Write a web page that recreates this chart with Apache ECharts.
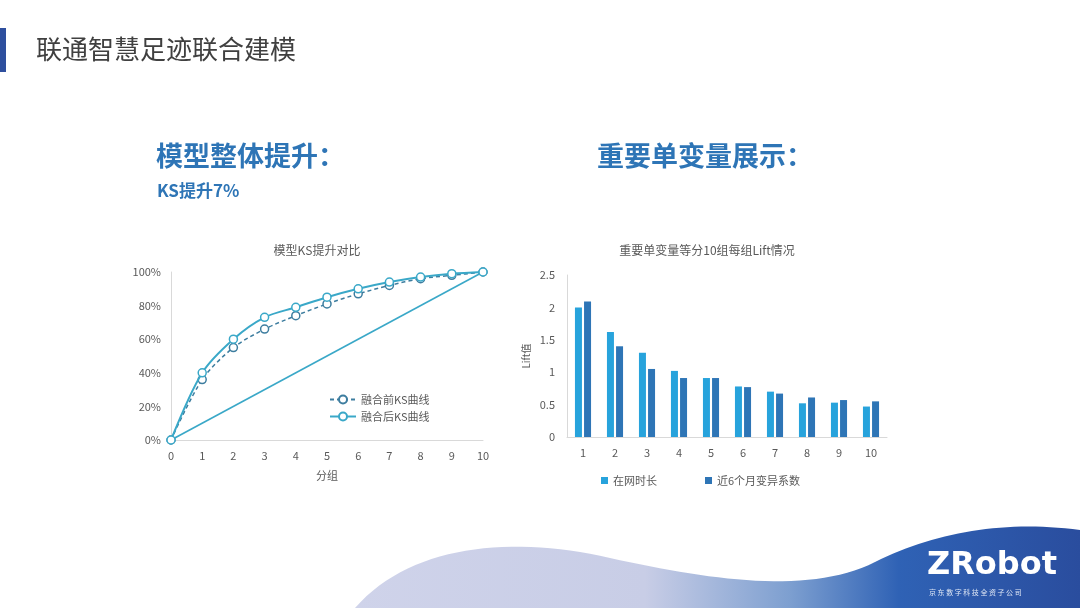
<!DOCTYPE html>
<html>
<head>
<meta charset="utf-8">
<script src="https://cdn.jsdelivr.net/npm/echarts@6/dist/echarts.min.js"></script>
<style>
  html, body { margin: 0; padding: 0; background: #fff; }
  #chart { width: 1080px; height: 608px; }
</style>
</head>
<body>
<div id="chart"></div>
<script>
// 左图：KS 曲线
const ksGroups = [0, 1, 2, 3, 4, 5, 6, 7, 8, 9, 10]
const ksBefore = [0, 36, 55, 66, 74, 81, 87, 92, 96, 98, 100]
const ksAfter = [0, 40, 60, 73, 79, 85, 90, 94, 97, 99, 100]
const ksBaseGroups = [0, 10]
const ksBaseValues = [0, 100]

// 右图：Lift
const liftGroups = ['1', '2', '3', '4', '5', '6', '7', '8', '9', '10']
const liftTenure = [2.0, 1.62, 1.30, 1.02, 0.91, 0.78, 0.70, 0.52, 0.53, 0.47]
const liftCv = [2.09, 1.40, 1.05, 0.91, 0.91, 0.77, 0.67, 0.61, 0.57, 0.55]

const FONT = '"Noto Sans CJK SC", "Noto Sans", sans-serif'
const GRAY = '#595959'
const AXIS = '#d9d9d9'
const C_AFTER = '#3aa8c8'
const C_BEFORE = '#3d7d9f'
const C_TENURE = '#27a3dc'
const C_CV = '#2e75b6'

const chart = echarts.init(document.getElementById('chart'))

const zip = (xs, ys) => xs.map((x, i) => [x, ys[i]])

// 底部装饰波浪：三次贝塞尔采样成多边形
function wavePoints() {
  const segs = [
    [[355, 608], [410, 545], [510, 535], [610, 558]],
    [[610, 558], [710, 580], [810, 595], [875, 562]],
    [[875, 562], [935, 532], [1005, 520], [1080, 530]]
  ]
  const pts = []
  segs.forEach(([p0, p1, p2, p3]) => {
    for (let i = 0; i <= 30; i++) {
      const t = i / 30, u = 1 - t
      pts.push([
        u * u * u * p0[0] + 3 * u * u * t * p1[0] + 3 * u * t * t * p2[0] + t * t * t * p3[0],
        u * u * u * p0[1] + 3 * u * u * t * p1[1] + 3 * u * t * t * p2[1] + t * t * t * p3[1]
      ])
    }
  })
  pts.push([1080, 608])
  return pts
}

const option = {
  textStyle: { fontFamily: FONT },
  title: [
    { text: '模型KS提升对比', left: 312, top: 239, textAlign: 'center',
      textStyle: { fontSize: 12, fontWeight: 'normal', color: GRAY, fontFamily: FONT } },
    { text: '重要单变量等分10组每组Lift情况', left: 702, top: 239, textAlign: 'center',
      textStyle: { fontSize: 12, fontWeight: 'normal', color: GRAY, fontFamily: FONT } }
  ],
  legend: [
    {
      data: ['融合前KS曲线', '融合后KS曲线'],
      orient: 'vertical', left: 324, top: 389, itemGap: 6,
      itemWidth: 26, itemHeight: 10,
      textStyle: { fontSize: 11, color: GRAY, fontFamily: FONT }
    },
    {
      data: ['在网时长', '近6个月变异系数'],
      left: 596, top: 470, itemGap: 48,
      icon: 'rect', itemWidth: 7, itemHeight: 7,
      textStyle: { fontSize: 11, color: GRAY, fontFamily: FONT }
    }
  ],
  grid: [
    { left: 171, top: 272, width: 312, height: 168 },
    { left: 567, top: 275, width: 320, height: 162 }
  ],
  xAxis: [
    {
      gridIndex: 0, type: 'value', min: 0, max: 10, interval: 1,
      name: '分组', nameLocation: 'middle', nameGap: 30,
      nameTextStyle: { fontSize: 11, color: GRAY },
      axisLine: { lineStyle: { color: AXIS } },
      axisTick: { show: false }, splitLine: { show: false },
      axisLabel: { fontSize: 11, color: GRAY, margin: 10 }
    },
    {
      gridIndex: 1, type: 'category', data: liftGroups,
      axisLine: { lineStyle: { color: AXIS } },
      axisTick: { show: false },
      axisLabel: { fontSize: 11, color: GRAY, margin: 10 }
    }
  ],
  yAxis: [
    {
      gridIndex: 0, type: 'value', min: 0, max: 100, interval: 20,
      axisLine: { show: true, lineStyle: { color: AXIS } },
      axisTick: { show: false }, splitLine: { show: false },
      axisLabel: { fontSize: 11, color: GRAY, margin: 10, formatter: '{value}%' }
    },
    {
      gridIndex: 1, type: 'value', min: 0, max: 2.5, interval: 0.5,
      name: 'Lift值', nameLocation: 'middle', nameGap: 36, nameRotate: 90,
      nameTextStyle: { fontSize: 10, color: GRAY },
      axisLine: { show: true, lineStyle: { color: AXIS } },
      axisTick: { show: false }, splitLine: { show: false },
      axisLabel: { fontSize: 11, color: GRAY, margin: 12 }
    }
  ],
  series: [
    {
      name: 'baseline', type: 'line', xAxisIndex: 0, yAxisIndex: 0,
      data: zip(ksBaseGroups, ksBaseValues), symbol: 'none',
      lineStyle: { color: C_AFTER, width: 1.6 }, silent: true, z: 1
    },
    {
      name: '融合前KS曲线', type: 'line', xAxisIndex: 0, yAxisIndex: 0,
      data: zip(ksGroups, ksBefore), smooth: 0.3,
      symbol: 'circle', symbolSize: 8,
      itemStyle: { color: '#fff', borderColor: C_BEFORE, borderWidth: 1.5 },
      lineStyle: { color: C_BEFORE, width: 1.5, type: [4, 3] }, z: 2
    },
    {
      name: '融合后KS曲线', type: 'line', xAxisIndex: 0, yAxisIndex: 0,
      data: zip(ksGroups, ksAfter), smooth: 0.3,
      symbol: 'circle', symbolSize: 8,
      itemStyle: { color: '#fff', borderColor: C_AFTER, borderWidth: 1.5 },
      lineStyle: { color: C_AFTER, width: 2 }, z: 3
    },
    {
      name: '在网时长', type: 'bar', xAxisIndex: 1, yAxisIndex: 1,
      data: liftTenure, barWidth: 7, barGap: '30%',
      itemStyle: { color: C_TENURE }
    },
    {
      name: '近6个月变异系数', type: 'bar', xAxisIndex: 1, yAxisIndex: 1,
      data: liftCv, barWidth: 7, barGap: '30%',
      itemStyle: { color: C_CV }
    }
  ],
  graphic: [
    {
      type: 'polygon', silent: true, z: -10,
      shape: { points: wavePoints() },
      style: {
        fill: new echarts.graphic.LinearGradient(355, 0, 1080, 0, [
          { offset: 0, color: '#cfd3ea' },
          { offset: 0.4, color: '#c8cde6' },
          { offset: 0.6, color: '#7d9fd0' },
          { offset: 0.75, color: '#2f62b5' },
          { offset: 1, color: '#2a4d9e' }
        ], true)
      }
    },
    // 顶部色条和标题
    { type: 'rect', shape: { x: 0, y: 28, width: 6, height: 44 }, style: { fill: '#2e4f9e' } },
    {
      type: 'text', left: 36, top: 36,
      style: { text: '联通智慧足迹联合建模', fontSize: 26, fill: '#404040', fontFamily: FONT }
    },
    {
      type: 'text', left: 156, top: 142,
      style: { text: '模型整体提升：', fontSize: 27, fontWeight: 'bold', fill: '#2e75b6', fontFamily: FONT }
    },
    {
      type: 'text', left: 157, top: 182,
      style: { text: 'KS提升7%', fontSize: 17, fontWeight: 'bold', fill: '#2e75b6', fontFamily: FONT }
    },
    {
      type: 'text', left: 597, top: 142,
      style: { text: '重要单变量展示：', fontSize: 27, fontWeight: 'bold', fill: '#2e75b6', fontFamily: FONT }
    },
    // 标志
    {
      type: 'text', left: 927, top: 550,
      style: { text: 'ZRobot', fontSize: 32, fontWeight: 'bold', fill: '#fff', fontFamily: '"DejaVu Sans", sans-serif' }
    },
    {
      type: 'text', left: 929, top: 589,
      style: { text: '京 东 数 字 科 技 全 资 子 公 司', fontSize: 7, fill: '#dfe7f5', fontFamily: FONT }
    }
  ]
}

chart.setOption(option)
window.addEventListener('resize', () => chart.resize())
</script>
</body>
</html>
